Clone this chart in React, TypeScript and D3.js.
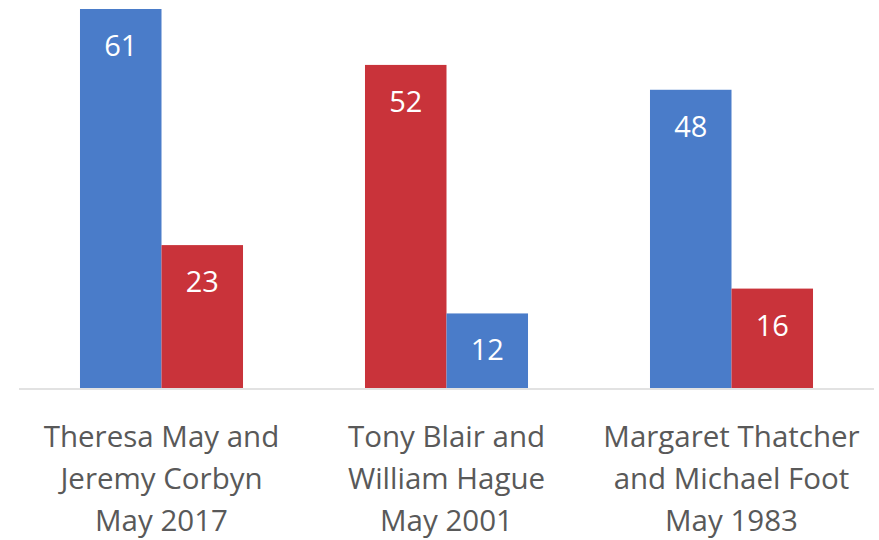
import React from "react";
import * as d3 from "d3";

const categories = [
  ["Theresa May and", "Jeremy Corbyn", "May 2017"],
  ["Tony Blair and", "William Hague", "May 2001"],
  ["Margaret Thatcher", "and Michael Foot", "May 1983"],
];
const firstValues = [61, 52, 48];
const firstColors = ["blue", "red", "blue"];
const secondValues = [23, 12, 16];
const secondColors = ["red", "blue", "red"];

const palette: Record<string, string> = { blue: "#4a7cc9", red: "#c9333a" };

const W = 879;
const H = 540;
const left = 19;
const right = 874;
const baseline = 388;
const top = 9;

export default function App() {
  const x = d3
    .scaleBand<number>()
    .domain(d3.range(categories.length))
    .range([left, right])
    .paddingInner(0.428)
    .paddingOuter(0.214);
  const y = d3.scaleLinear().domain([0, 61]).range([baseline, top]);
  const bw = x.bandwidth() / 2;
  const font = "'Open Sans', 'Noto Sans', sans-serif";
  const bars: { v: number; c: string; xi: number }[] = [];
  categories.forEach((_, i) => {
    bars.push({ v: firstValues[i], c: firstColors[i], xi: x(i)! });
    bars.push({ v: secondValues[i], c: secondColors[i], xi: x(i)! + bw });
  });
  return (
    <svg
      width={W}
      height={H}
      style={{ position: "absolute", left: 0, top: 0, background: "#fff" }}
    >
      {bars.map((b, k) => (
        <g key={k}>
          <rect x={b.xi} y={y(b.v)} width={bw} height={baseline - y(b.v)} fill={palette[b.c]} />
          <text
            x={b.xi + bw / 2}
            y={y(b.v) + 47}
            textAnchor="middle"
            fill="#fff"
            fontSize={29}
            fontFamily={font}
          >
            {b.v}
          </text>
        </g>
      ))}
      <line x1={left} x2={right} y1={baseline + 1} y2={baseline + 1} stroke="#d9d9d9" strokeWidth={1.5} />
      {categories.map((lines, i) => (
        <text
          key={i}
          x={x(i)! + x.bandwidth() / 2}
          textAnchor="middle"
          fill="#595959"
          fontSize={29.5}
          fontFamily={font}
        >
          {lines.map((l, j) => (
            <tspan key={j} x={x(i)! + x.bandwidth() / 2} y={447 + j * 42}>
              {l}
            </tspan>
          ))}
        </text>
      ))}
    </svg>
  );
}
